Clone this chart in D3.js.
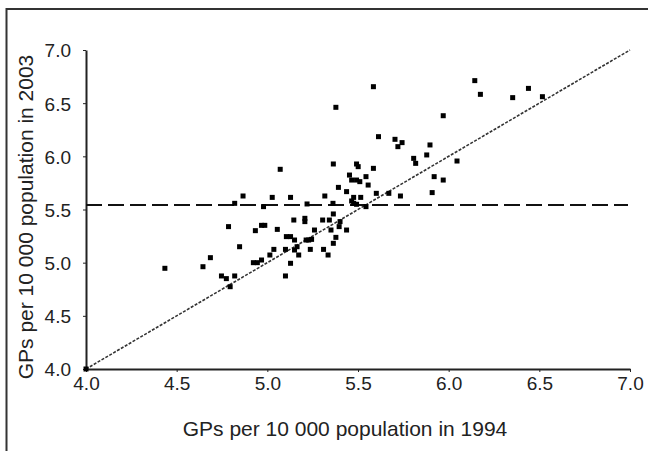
<!DOCTYPE html>
<meta charset="utf-8">
<style>
body { margin: 0; background: #fff; }
text { font-family: "Liberation Sans", Arial, Helvetica, sans-serif; fill: #222; }
.axis path, .axis line { stroke: #222; }
</style>
<svg width="648" height="451"></svg>
<script src="https://d3js.org/d3.v7.min.js"></script>
<script>

// GPs per 10 000 population, one entry per area
var gp1994 = [4.435, 4.645, 4.686, 4.747, 4.774, 4.820, 4.795, 4.786, 4.820, 4.866,
  4.847, 4.923, 4.945, 4.968, 4.934, 4.968, 4.986, 4.979, 5.027, 5.014,
  5.036, 5.055, 5.071, 5.100, 5.100, 5.105, 5.128, 5.128, 5.128, 5.146,
  5.150, 5.150, 5.164, 5.173, 5.207, 5.207, 5.214, 5.219, 5.228, 5.237,
  5.244, 5.260, 5.317, 5.305, 5.310, 5.335, 5.342, 5.351, 5.364, 5.362,
  5.364, 5.364, 5.378, 5.378, 5.392, 5.396, 5.401, 5.437, 5.437, 5.453,
  5.465, 5.476, 5.476, 5.492, 5.492, 5.501, 5.510, 5.515, 5.544, 5.544,
  5.556, 5.585, 5.585, 5.601, 5.613, 5.670, 5.704, 5.720, 5.743, 5.734,
  5.807, 5.818, 5.879, 5.897, 5.909, 5.920, 5.970, 5.970, 6.046, 6.144,
  6.175, 6.353, 6.440, 6.517, 5.465, 5.492, 4.0];
var gp2003 = [4.947, 4.962, 5.047, 4.875, 4.850, 4.875, 4.774, 5.339, 5.558, 5.627,
  5.150, 5.000, 5.000, 5.025, 5.301, 5.351, 5.351, 5.527, 5.614, 5.072,
  5.125, 5.313, 5.878, 4.875, 5.125, 5.245, 5.245, 5.614, 4.994, 5.401,
  5.213, 5.119, 5.150, 5.072, 5.417, 5.386, 5.213, 5.552, 5.213, 5.125,
  5.219, 5.307, 5.627, 5.401, 5.125, 5.072, 5.401, 5.307, 5.928, 5.558,
  5.458, 5.182, 6.461, 5.238, 5.708, 5.339, 5.386, 5.307, 5.668, 5.824,
  5.777, 5.614, 5.558, 5.928, 5.777, 5.903, 5.762, 5.614, 5.527, 5.809,
  5.730, 6.655, 5.887, 5.652, 6.185, 5.652, 6.160, 6.091, 6.129, 5.627,
  5.981, 5.934, 6.013, 6.107, 5.659, 5.809, 5.777, 6.382, 5.956, 6.712,
  6.583, 6.552, 6.639, 6.561, 5.580, 5.549, 4.0];

var tickValues = [4.0, 4.5, 5.0, 5.5, 6.0, 6.5, 7.0];
var meanLine = 5.543;   // dashed reference level
var equality = [4.0, 7.0];

var svg = d3.select("svg");

// frame round the figure (right and bottom sides run off the page)
svg.append("rect")
    .attr("x", 6.5).attr("y", 9)
    .attr("width", 700).attr("height", 500)
    .attr("fill", "none")
    .attr("stroke", "#333")
    .attr("stroke-width", 2);

var x = d3.scaleLinear().domain([4, 7]).range([86, 630]);
var y = d3.scaleLinear().domain([4, 7]).range([369, 50]);

// axes
var xAxis = svg.append("g")
    .attr("class", "axis")
    .attr("transform", "translate(0,369)")
    .call(d3.axisBottom(x).tickValues(tickValues).tickFormat(d3.format(".1f"))
      .tickSize(3).tickSizeOuter(0));
xAxis.select(".domain").attr("stroke-width", 2);
xAxis.selectAll("text").attr("font-size", 19).attr("y", 8).attr("dy", "0.71em");

var yAxis = svg.append("g")
    .attr("class", "axis")
    .attr("transform", "translate(86,0)")
    .call(d3.axisLeft(y).tickValues(tickValues).tickFormat(d3.format(".1f"))
      .tickSize(3).tickSizeOuter(0));
yAxis.select(".domain").attr("stroke-width", 2);
yAxis.selectAll("text").attr("font-size", 19).attr("x", -15).attr("dy", "0.36em");
svg.selectAll(".axis .domain").attr("stroke", "#222");
svg.selectAll(".axis text").attr("fill", "#222");

// dashed horizontal reference
svg.append("line")
    .attr("x1", x(4)).attr("x2", x(7) - 2)
    .attr("y1", y(meanLine)).attr("y2", y(meanLine))
    .attr("stroke", "#111")
    .attr("stroke-width", 2)
    .attr("stroke-dasharray", "16,6");

// line of equality
svg.append("line")
    .attr("x1", x(equality[0])).attr("y1", y(equality[0]))
    .attr("x2", x(equality[1])).attr("y2", y(equality[1]))
    .attr("stroke", "#333")
    .attr("stroke-width", 1.6)
    .attr("stroke-dasharray", "3,1.5");

// points
var pts = gp1994.map(function(d, i) { return { a: d, b: gp2003[i] }; });
svg.append("g").selectAll("rect")
    .data(pts)
    .enter().append("rect")
      .attr("x", function(d) { return x(d.a) - 2.5; })
      .attr("y", function(d) { return y(d.b) - 2.5; })
      .attr("width", 5)
      .attr("height", 5)
      .attr("fill", "#000");

// titles
svg.append("text")
    .attr("x", 345).attr("y", 436)
    .attr("text-anchor", "middle")
    .attr("font-size", 21)
    .text("GPs per 10 000 population in 1994");

svg.append("text")
    .attr("transform", "translate(33,217) rotate(-90)")
    .attr("text-anchor", "middle")
    .attr("font-size", 21)
    .text("GPs per 10 000 population in 2003");

</script>
